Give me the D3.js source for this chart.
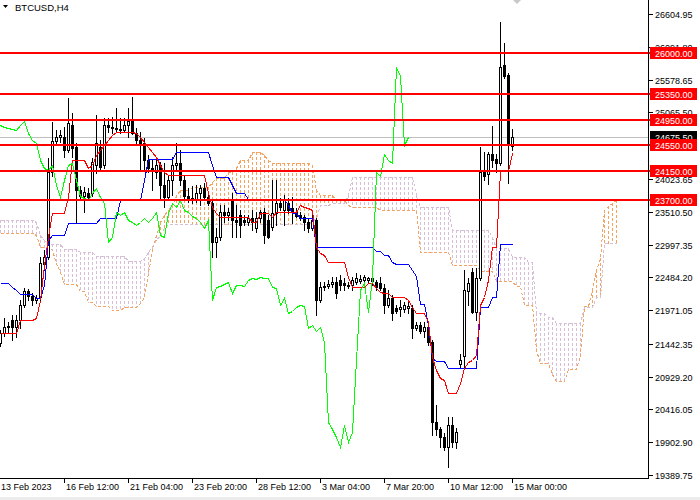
<!DOCTYPE html>
<html><head><meta charset="utf-8">
<script src="https://cdn.jsdelivr.net/npm/d3@7"></script>
<style>html,body{margin:0;padding:0;background:#fff;}svg{display:block;}text{font-family:"Liberation Sans",Arial,sans-serif;}</style>
</head><body><svg id="c" width="700" height="500"></svg>
<script>
const symbolTitle = "BTCUSD,H4";
const opens = [21456,21613,21706,21816,21706,21816,22051,22270,22192,22129,
22176,22692,22802,24132,24617,24680,24680,24476,24868,24523,
23850,23757,23804,23804,24242,24523,24242,24868,24836,24821,
24805,24790,24868,24946,24743,24633,24586,24320,24195,24132,
24242,23929,23741,24007,24242,24273,24007,23757,23725,23694,
23804,23882,23741,23647,23037,23115,23506,23459,23694,23381,
23459,23381,23350,23412,23256,23412,23506,23381,23271,23490,
23647,23537,23647,23569,23506,23459,23428,23350,23256,23381,
22129,22332,22348,22379,22411,22442,22395,22364,22364,22411,
22426,22442,22442,22426,22411,22395,22317,22051,22160,22004,
21988,21988,22004,22004,21691,21738,21644,21706,21472,20220,
20110,19985,19828,20173,19907,21127,21253,22270,22567,21941,
22473,24132,24101,24414,24336,24273,25807,25650,24539];
const highs = [21659,21847,21785,21894,21894,22129,22317,22301,22239,22207,
22802,22911,24351,24915,24790,24790,24836,25290,25056,24586,
23913,23897,23882,24351,25024,24633,24977,24977,24993,25134,
24977,24977,25134,25306,24821,24758,24664,24398,24320,24320,
24289,24273,24085,24367,24586,24476,24085,23882,23913,23929,
23929,23960,23819,23694,23256,23616,23616,23569,23804,23616,
23537,23459,23459,23537,23506,23537,23569,23459,24007,24007,
23725,23772,23725,23741,23569,23506,23459,23412,23459,23412,
22411,22411,22442,22489,22489,22520,22473,22411,22489,22552,
22520,22520,22489,22520,22442,22489,22379,22285,22207,22051,
22129,22098,22129,22051,21785,21785,21785,21738,21503,20486,
20141,20048,20298,20298,20126,21284,22598,22473,22630,22630,
24523,24445,24445,24852,24414,26480,26151,25682,24805];
const lows = [21409,21566,21628,21503,21550,21691,22019,22129,22051,22082,
22129,22598,22771,24070,24555,24602,24367,24445,24367,23350,
23694,23506,23694,23757,24117,24163,24195,24758,24743,24758,
24743,24774,24680,24727,24555,24163,24163,24132,23850,24038,
23694,23584,23694,23772,24163,23929,23694,23663,23647,23663,
23616,23694,23616,22802,22802,23068,23350,23381,23115,23115,
23115,23303,23303,23224,23193,23350,23021,23099,23224,23303,
23537,23303,23490,23334,23428,23381,23224,23193,23224,21894,
22098,22285,22317,22332,22160,22285,22285,22317,22285,22379,
22395,22364,22395,22364,22285,22285,21926,22019,21816,21926,
21879,21941,21926,21534,21659,21613,21550,21425,20016,20016,
19828,19781,19515,19828,19813,21080,21080,22051,21926,21816,
22442,24007,23944,24210,24132,24242,25603,23960,24476];
const closes = [21613,21706,21722,21706,21816,22051,22270,22192,22129,22160,
22708,22802,24132,24617,24680,24711,24476,24899,24508,23850,
23757,23819,23741,24289,24586,24210,24868,24836,24821,24805,
24790,24868,24930,24743,24633,24586,24320,24195,24163,24242,
23929,23741,24007,24242,24273,24007,23757,23725,23694,23804,
23882,23741,23647,23037,23115,23506,23459,23506,23381,23350,
23303,23350,23412,23350,23412,23506,23146,23115,23490,23647,
23584,23694,23537,23506,23444,23412,23350,23256,23381,22129,
22332,22348,22379,22411,22239,22364,22364,22348,22442,22473,
22458,22489,22473,22473,22332,22317,22051,22160,21926,21957,
22019,22051,22035,21691,21738,21644,21706,21472,20220,20110,
19985,19828,20173,19907,20063,21190,22285,22395,21941,22473,
24132,24070,24414,24320,24273,25775,25635,24555,24675.5];
const tenkan = [21613,21613,21613,21613,21613,21816,21816,21816,21816,21847,
22129,22677,23115,23490,23490,23490,23490,23741,24320,24320,
24320,24320,24195,24242,24398,24476,24555,24633,24711,24758,
24758,24758,24758,24758,24743,24680,24602,24523,24445,24367,
24242,24132,24085,24085,24085,24085,24085,24085,24085,24085,
24085,24085,23804,23584,23490,23428,23428,23428,23428,23428,
23428,23428,23428,23350,23350,23490,23490,23490,23428,23506,
23506,23506,23506,23506,23506,23616,23584,23569,23537,22958,
22865,22833,22724,22724,22724,22724,22724,22489,22332,22332,
22332,22332,22395,22395,22317,22254,22239,22239,22176,22176,
22176,22176,22129,22019,21926,21926,21926,21785,21237,21033,
20908,20877,20674,20674,20674,20830,21065,21159,21190,21268,
22051,22176,22442,22958,22958,24148,24148,24148,24430];
const kijun = [22395,22395,22395,22332,22285,22223,22223,22223,22223,22160,
22160,22364,23068,23146,23146,23146,23146,23334,23334,23334,
23334,23334,23334,23334,23334,23412,23412,23412,23412,23412,
23694,23694,23694,23694,23694,23694,24007,24336,24336,24336,
24336,24336,24336,24336,24445,24445,24445,24445,24445,24445,
24445,24445,24445,24242,24054,24054,24054,24054,23929,23804,
23804,23804,23710,23710,23710,23710,23710,23710,23710,23710,
23710,23710,23616,23490,23490,23412,23412,23412,23412,22958,
22958,22958,22958,22958,22958,22958,22958,22958,22958,22958,
22958,22958,22958,22958,22896,22896,22833,22833,22724,22692,
22692,22692,22692,22598,22505,22066,22066,21738,21221,21174,
21174,21174,21065,21065,21065,21065,21065,21065,21065,21065,
22019,22019,22019,22176,22176,23005,23005,23005,23005];
const spanA = [23178,23178,23178,23178,23178,23178,23178,23178,23178,23146,
22958,22958,22958,22911,22708,22567,22379,22379,22379,22379,
22270,22270,22098,22098,22035,22035,22035,22035,21972,21972,
21972,22019,22019,22019,22019,22082,22176,22552,22911,23146,
23350,23459,23537,23616,23772,23850,23850,23850,23897,23897,
23897,23897,23897,23976,24038,24038,24038,24132,24132,24195,
24320,24320,24320,24445,24445,24445,24398,24320,24273,24273,
24273,24273,24273,24273,24273,24273,24273,24273,24242,23850,
23772,23772,23772,23772,23694,23694,23694,23616,23584,23584,
23584,23584,23584,23584,23584,23537,23537,23537,23537,23537,
23537,23537,23537,23537,23537,22880,22880,22880,22880,22880,
22880,22880,22880,22677,22677,22677,22677,22677,22677,22677,
22583,22583,22583,22583,22426,22426,22426,22426,22426,22348,
22348,22051,22051,22051,21346,21143,21143,21143,20971,20861,
20861,20861,21049,21049,21049,21268,22035,22035,22285,22598,
22786,23537,23600,23647,23694];
const spanB = [23381,23381,23381,23381,23381,23381,23381,23381,23381,23350,
23146,23068,23005,23005,23005,23005,22927,22927,22927,22927,
22880,22880,22880,22880,22818,22818,22818,22818,22818,22818,
22818,22818,22739,22739,22739,22739,22786,22880,22974,23068,
23146,23256,23318,23318,23318,23318,23318,23318,23318,23318,
23318,23318,23318,23318,23318,23318,23318,23318,23318,23318,
23318,23318,23318,23318,23318,23318,23318,23318,23318,23318,
23318,23318,23318,23318,23318,23318,23318,23318,23365,23412,
23616,23616,23616,23647,23647,23647,23647,23772,24054,24054,
24054,24054,24054,24054,24054,24054,24054,24054,24054,24054,
24054,24054,24054,24054,23772,23584,23584,23584,23584,23584,
23584,23584,23584,23224,23224,23224,23224,23224,23224,23224,
23224,23224,23224,23115,22943,22943,22943,22943,22802,22802,
22802,22802,22724,22724,21926,21926,21926,21863,21863,21769,
21769,21769,21769,21769,21769,21769,22019,22019,22019,22176,
22176,23021,23021,23021,23021];
const chikouShift = 26;
const levels = [26000, 25350, 24950, 24550, 24150, 23700];
const priceTicks = [26604.95, 26091.80, 25578.65, 25065.50, 24023.65, 23510.50, 22997.35, 22484.20, 21971.05, 21442.35, 20929.20, 20416.05, 19902.90, 19389.75];
const timeLabels = ["13 Feb 2023","16 Feb 12:00","21 Feb 04:00","23 Feb 20:00","28 Feb 12:00","3 Mar 04:00","7 Mar 20:00","10 Mar 12:00","15 Mar 00:00"];
const timeTickBars = [0,16,32,48,64,80,96,112,128];

const plotRight = 648, axisY = 478;
const svg = d3.select('#c');
svg.append('rect').attr('width',700).attr('height',500).attr('fill','#fff');
const x = d3.scaleLinear().domain([0,128]).range([0,512]);
const y = d3.scaleLinear().domain([19389.75,26604.95]).range([475,14]);
const X = i => Math.round(x(i)), Y = v => Math.round(y(v));

svg.append('defs').append('clipPath').attr('id','pc').append('rect').attr('x',0).attr('y',0).attr('width',plotRight).attr('height',axisY);
const g = svg.append('g').attr('clip-path','url(#pc)').attr('shape-rendering','crispEdges');

// bid line
const last = closes[closes.length-1];
g.append('rect').attr('x',0).attr('y',Y(last)).attr('width',plotRight).attr('height',1).attr('fill','#c0c0c0');

// cloud hatch
const colA = '#F4A460', colB = '#D8BFD8';
spanA.forEach((a,j)=>{
  const b = spanB[j], ya = Y(a), yb = Y(b);
  g.append('line').attr('x1',X(j)+0.5).attr('x2',X(j)+0.5)
   .attr('y1',Math.min(ya,yb)).attr('y2',Math.max(ya,yb)+1)
   .attr('stroke', a>=b ? colA : colB).attr('stroke-width',1).attr('stroke-dasharray','3,2');
});
const lineGen = d3.line().x((d,i)=>X(i)+0.5).y(d=>Y(d)+0.5);
g.append('path').attr('d',lineGen(spanA)).attr('fill','none').attr('stroke',colA).attr('stroke-dasharray','3,2');
g.append('path').attr('d',lineGen(spanB)).attr('fill','none').attr('stroke',colB).attr('stroke-dasharray','3,2');

// candles
const cg = g.append('g');
opens.forEach((o,i)=>{
  const c = closes[i], h = highs[i], l = lows[i];
  const cx = X(i), yh = Y(h), yl = Y(l), yo = Y(o), yc = Y(c);
  cg.append('rect').attr('x',cx).attr('y',yh).attr('width',1).attr('height',yl-yh+1).attr('fill','#000');
  const top = Math.min(yo,yc), bot = Math.max(yo,yc);
  cg.append('rect').attr('x',cx-1).attr('y',top).attr('width',3).attr('height',bot-top+1).attr('fill','#000');
  if (c > o && bot-top > 1) {
    cg.append('rect').attr('x',cx).attr('y',top+1).attr('width',1).attr('height',bot-top-1).attr('fill','#fff');
  }
});

// ichimoku lines
g.append('path').attr('d',lineGen(kijun)).attr('fill','none').attr('stroke','#0000ff');
g.append('path').attr('d',lineGen(tenkan)).attr('fill','none').attr('stroke','#ff0000');
g.append('path').attr('d',lineGen(closes.slice(chikouShift))).attr('fill','none').attr('stroke','#00ff00');

// horizontal levels
levels.forEach(v=>{
  g.append('rect').attr('x',0).attr('y',Y(v)-1).attr('width',plotRight+2).attr('height',2).attr('fill','#ff0000');
});
svg.selectAll('rect.lvx').data(levels).enter().append('rect').attr('x',plotRight).attr('y',v=>Y(v)-1).attr('width',3).attr('height',2).attr('fill','#ff0000');

// axes
const ax = svg.append('g').attr('shape-rendering','crispEdges');
ax.append('rect').attr('x',plotRight).attr('y',0).attr('width',1).attr('height',axisY+1).attr('fill','#000');
ax.append('rect').attr('x',0).attr('y',axisY).attr('width',plotRight+1).attr('height',1).attr('fill','#000');
priceTicks.forEach(v=>{
  ax.append('rect').attr('x',plotRight+1).attr('y',Y(v)).attr('width',4).attr('height',1).attr('fill','#000');
  ax.append('text').attr('x',655).attr('y',Y(v)+3.5).attr('font-size',9).attr('fill','#000').text(v.toFixed(2));
});
timeTickBars.forEach((b,k)=>{
  if (k>0) ax.append('rect').attr('x',X(b)).attr('y',axisY).attr('width',1).attr('height',5).attr('fill','#000');
  ax.append('text').attr('x',X(b)+(k===0?1:2)).attr('y',490).attr('font-size',9).attr('fill','#000').text(timeLabels[k]);
});

// current price label
const lb = svg.append('g');
lb.append('rect').attr('x',650).attr('y',Y(last)-6).attr('width',47).attr('height',12).attr('fill','#000');
lb.append('text').attr('x',655).attr('y',Y(last)+3.5).attr('font-size',9).attr('fill','#fff').text(last.toFixed(2));
levels.forEach(v=>{
  lb.append('rect').attr('x',650).attr('y',Y(v)-6).attr('width',47).attr('height',12).attr('fill','#ff0000');
  lb.append('text').attr('x',655).attr('y',Y(v)+3.5).attr('font-size',9).attr('fill','#fff').text(v.toFixed(2));
});

// title
svg.append('path').attr('d','M3,5 L8,5 L5.5,8 Z').attr('fill','#000');
svg.append('text').attr('x',15).attr('y',10.5).attr('font-size',9.5).attr('fill','#000').text(symbolTitle);
// shift marker
svg.append('path').attr('d',`M${X(128)+1},0 L${X(128)+9},0 L${X(128)+5},4 Z`).attr('fill','#c8c8c8');
// bottom strip
svg.append('rect').attr('x',0).attr('y',497).attr('width',700).attr('height',3).attr('fill','#ececec');
</script></body></html>
